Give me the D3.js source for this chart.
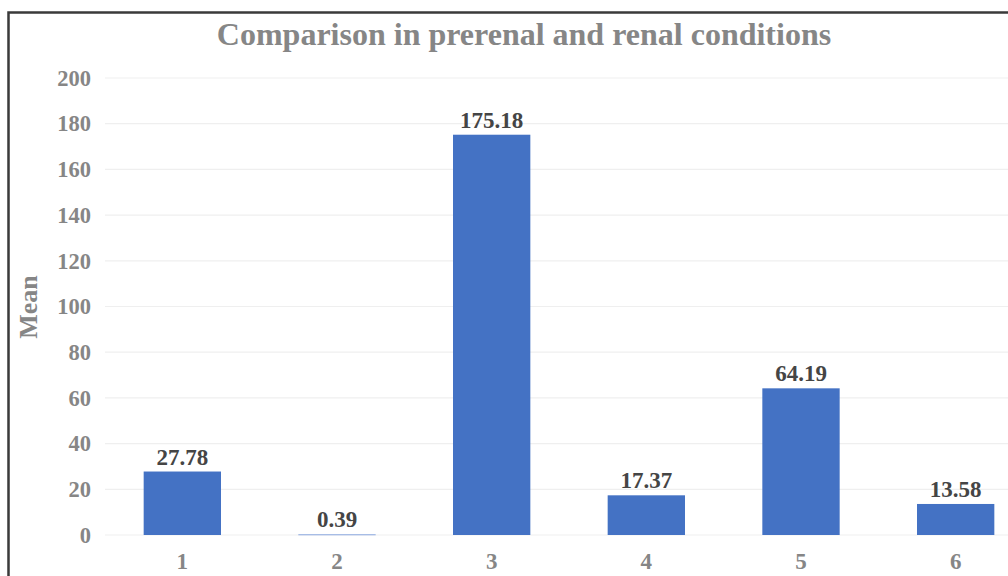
<!DOCTYPE html>
<html>
<head>
<meta charset="utf-8">
<script src="https://cdn.jsdelivr.net/npm/d3@7"></script>
<style>
  html, body { margin: 0; padding: 0; background: #fff; }
  svg { display: block; }
  text { font-family: "Liberation Serif", "Times New Roman", serif; }
</style>
</head>
<body>
<svg id="chart" width="1008" height="576"></svg>
<script>
// Mean values for the six groups
const categories = ["1", "2", "3", "4", "5", "6"];
const means = [27.78, 0.39, 175.18, 17.37, 64.19, 13.58];
const yTicks = [0, 20, 40, 60, 80, 100, 120, 140, 160, 180, 200];

const svg = d3.select("#chart");
const W = 1008, H = 576;
const grey = "#868686";

// Outer frame (runs past the right and bottom edges)
svg.append("rect")
  .attr("x", 8.5).attr("y", 12.5)
  .attr("width", W + 20).attr("height", H + 20)
  .attr("fill", "#fff")
  .attr("stroke", "#3a3a3a").attr("stroke-width", 2.5);

const x = d3.scaleBand()
  .domain(categories)
  .range([105, 1033])
  .paddingInner(0.5)
  .paddingOuter(0.25);

const y = d3.scaleLinear().domain([0, 200]).range([535, 78]);

// Horizontal gridlines
svg.append("g")
  .selectAll("line")
  .data(yTicks)
  .join("line")
  .attr("x1", 105).attr("x2", W)
  .attr("y1", d => y(d)).attr("y2", d => y(d))
  .attr("stroke", "#efefef").attr("stroke-width", 1.2);

// Y axis labels
const yAxis = d3.axisLeft(y).tickValues(yTicks).tickSize(0).tickPadding(0);
const gy = svg.append("g").attr("transform", "translate(91,0)").call(yAxis);
gy.select(".domain").remove();
gy.selectAll("text")
  .attr("font-family", "Liberation Serif, serif")
  .attr("font-size", 22.5).attr("font-weight", "bold")
  .attr("fill", grey);

// Bars
svg.append("g")
  .selectAll("rect")
  .data(means)
  .join("rect")
  .attr("x", (d, i) => x(categories[i]))
  .attr("width", x.bandwidth())
  .attr("y", d => y(d))
  .attr("height", d => Math.max(1.2, y(0) - y(d)))
  .attr("fill", d => d < 1 ? "#9db6e4" : "#4472c4");

// Value labels
svg.append("g")
  .selectAll("text")
  .data(means)
  .join("text")
  .attr("x", (d, i) => x(categories[i]) + x.bandwidth() / 2)
  .attr("y", d => y(d) - 7)
  .attr("text-anchor", "middle")
  .attr("font-size", 23).attr("font-weight", "bold")
  .attr("fill", "#454545")
  .text(d => d.toFixed(2));

// X axis labels
const xAxis = d3.axisBottom(x).tickSize(0).tickPadding(0);
const gx = svg.append("g").attr("transform", "translate(0,569)").call(xAxis);
gx.select(".domain").remove();
gx.selectAll("text")
  .attr("dy", 0)
  .attr("font-family", "Liberation Serif, serif")
  .attr("font-size", 23).attr("font-weight", "bold")
  .attr("fill", grey);

// Y axis title
svg.append("text")
  .attr("transform", "translate(37,307) rotate(-90)")
  .attr("text-anchor", "middle")
  .attr("font-size", 26).attr("font-weight", "bold")
  .attr("fill", grey)
  .text("Mean");

// Chart title
svg.append("text")
  .attr("x", 524).attr("y", 45)
  .attr("text-anchor", "middle")
  .attr("font-size", 32).attr("font-weight", "bold")
  .attr("fill", grey)
  .text("Comparison in prerenal and renal conditions");
</script>
</body>
</html>
